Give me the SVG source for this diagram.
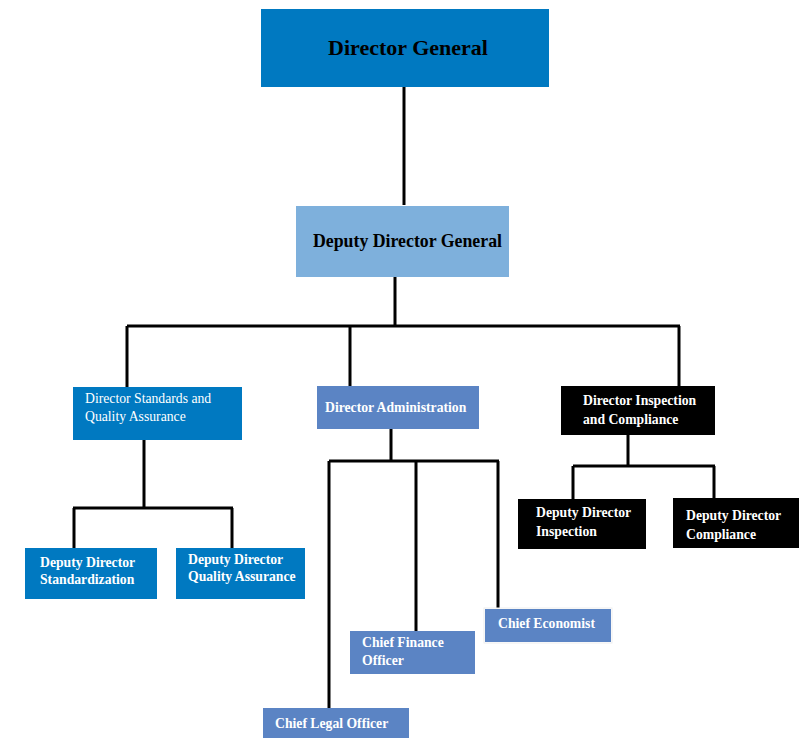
<svg xmlns="http://www.w3.org/2000/svg" width="799" height="738" viewBox="0 0 799 738">
<style>
.t{font-family:"Liberation Serif","Times New Roman",serif;font-weight:bold;fill:#fff;font-size:13.7px}
.k{fill:#000}
.big{font-size:22px}
.mid2{font-size:17.8px}
.n{font-weight:normal}
.c{fill:none;stroke:#000;stroke-width:3}
.blue{fill:#0079C1}
.mid{fill:#5B84C4}
.blk{fill:#000}
</style>
<rect width="799" height="738" fill="#fff"/>
<g id="connectors" class="c">
<path d="M404 87V205"/>
<path d="M395 277V326M127 326H680M127 326V387M350 326V387M679 326V386"/>
<path d="M144 440V508M73 508H233M74 508V548M232 508V548"/>
<path d="M391 429V461M329 461H499M329 461V708M416 461V631M498 461V608"/>
<path d="M628 435V466M573 466H715M573 466V499M714 466V498"/>
</g>
<g id="dg"><rect class="blue" x="261" y="9" width="288" height="78"/><text class="t k big" x="408" y="55" text-anchor="middle">Director General</text></g>
<g id="ddg"><rect x="296" y="206" width="213" height="71" fill="#7EB0DC"/><text class="t k mid2" x="313" y="247">Deputy Director General</text></g>
<g id="dsqa"><rect class="blue" x="73" y="387" width="169" height="53"/><text class="t n" x="85" y="403">Director Standards and</text><text class="t n" x="85" y="421">Quality Assurance</text></g>
<g id="dadmin"><rect class="mid" x="317" y="386" width="162" height="43"/><text class="t" x="325" y="412">Director Administration</text></g>
<g id="dic"><rect class="blk" x="561" y="386" width="154" height="49"/><text class="t" x="583" y="405">Director Inspection</text><text class="t" x="583" y="424">and Compliance</text></g>
<g id="dds"><rect class="blue" x="25" y="548" width="132" height="51"/><text class="t" x="40" y="567">Deputy Director</text><text class="t" x="40" y="584">Standardization</text></g>
<g id="ddqa"><rect class="blue" x="176" y="548" width="129" height="51"/><text class="t" x="188" y="564">Deputy Director</text><text class="t" x="188" y="581">Quality Assurance</text></g>
<g id="cfo"><rect class="mid" x="350" y="631" width="125" height="43"/><text class="t" x="362" y="647">Chief Finance</text><text class="t" x="362" y="665">Officer</text></g>
<g id="ce"><rect x="484" y="608" width="128" height="35" fill="#fff" stroke="#eeeeee" stroke-width="1"/><rect class="mid" x="485" y="609" width="126" height="33"/><text class="t" x="498" y="628">Chief Economist</text></g>
<g id="clo"><rect class="mid" x="263" y="708" width="146" height="30"/><text class="t" x="275" y="728">Chief Legal Officer</text></g>
<g id="ddi"><rect class="blk" x="518" y="499" width="128" height="50"/><text class="t" x="536" y="517">Deputy Director</text><text class="t" x="536" y="536">Inspection</text></g>
<g id="ddc"><rect class="blk" x="673" y="498" width="126" height="50"/><text class="t" x="686" y="520">Deputy Director</text><text class="t" x="686" y="539">Compliance</text></g>
</svg>
